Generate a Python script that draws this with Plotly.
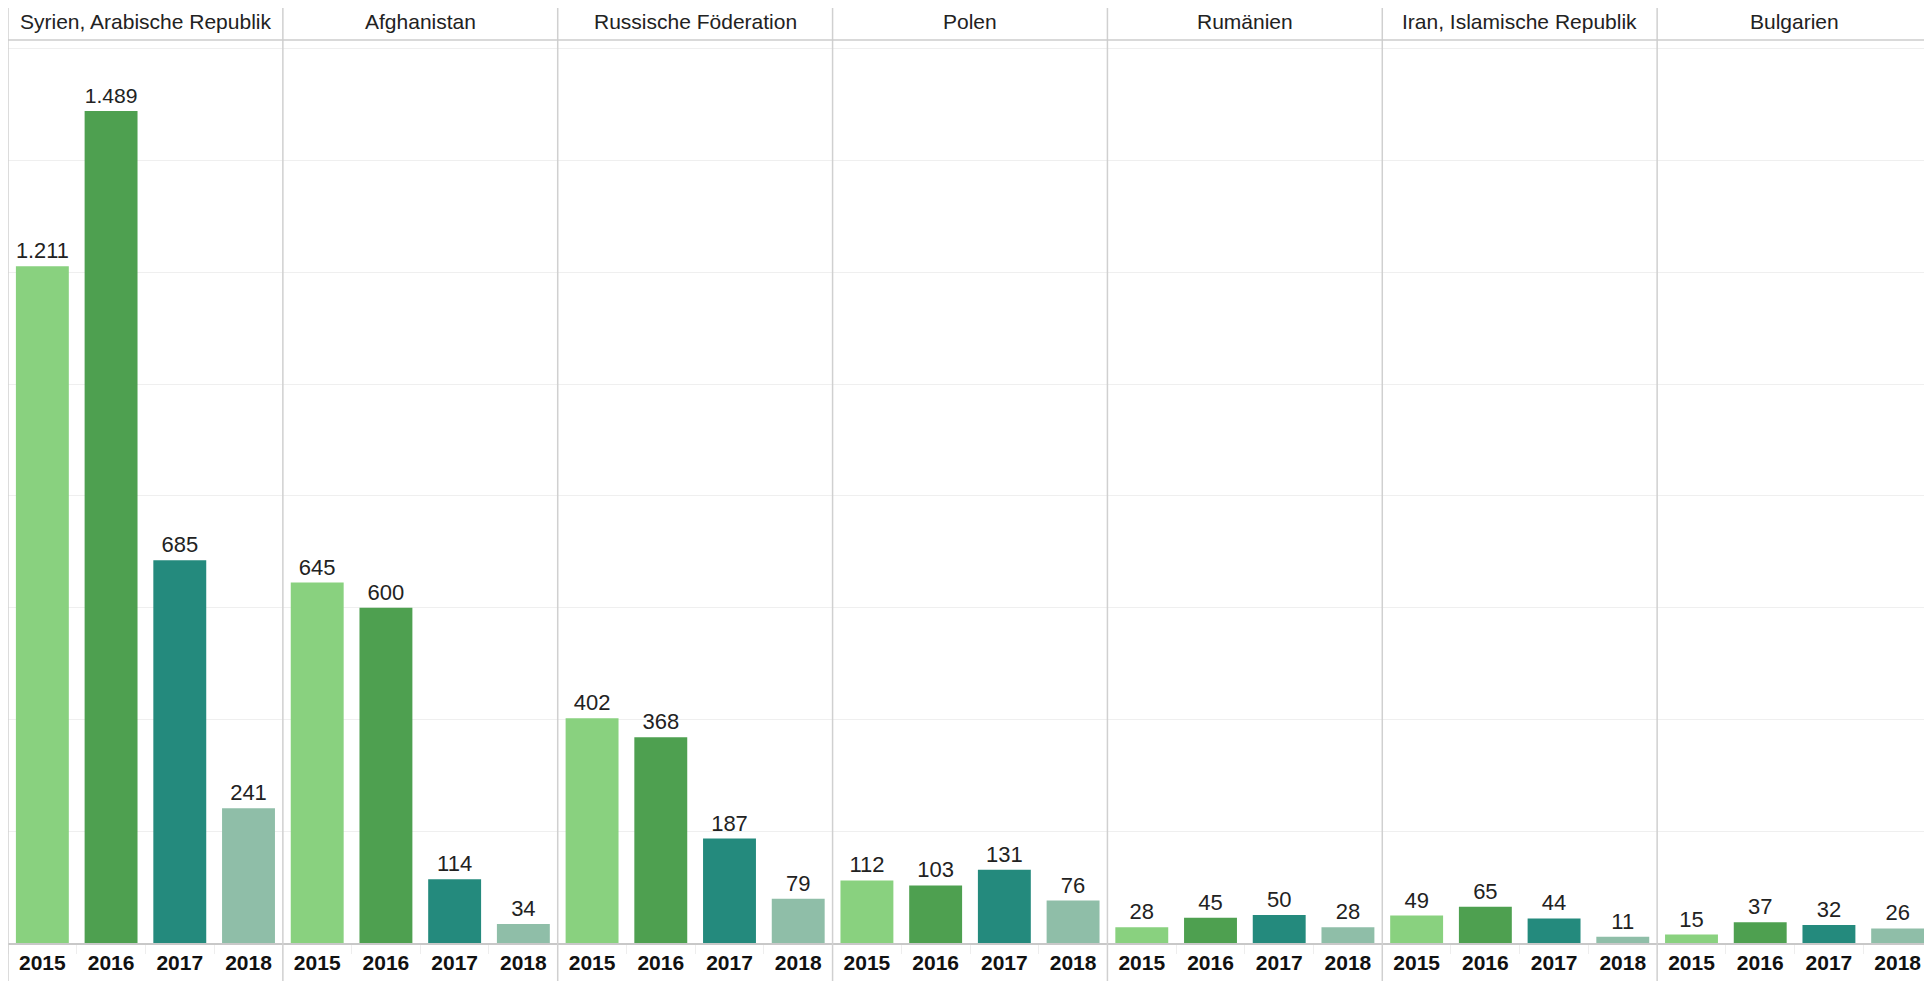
import plotly.graph_objects as go
from plotly.subplots import make_subplots

countries = ["Syrien, Arabische Republik", "Afghanistan", "Russische Föderation", "Polen",
             "Rumänien", "Iran, Islamische Republik", "Bulgarien"]
years = ["2015", "2016", "2017", "2018"]
values = {
    "Syrien, Arabische Republik": [1211, 1489, 685, 241],
    "Afghanistan": [645, 600, 114, 34],
    "Russische Föderation": [402, 368, 187, 79],
    "Polen": [112, 103, 131, 76],
    "Rumänien": [28, 45, 50, 28],
    "Iran, Islamische Republik": [49, 65, 44, 11],
    "Bulgarien": [15, 37, 32, 26],
}
year_colors = ["#89D17F", "#4EA050", "#248A7D", "#8FBEA8"]

FONT = "Liberation Sans Narrow, Arial Narrow, Liberation Sans, Arial, sans-serif"
# page body has an 8px margin, so the figure is sized to fit the window
W, H = 1924, 973
ML, MR, MT, MB = 0, 0, 32, 38
n = len(countries)

fig = make_subplots(rows=1, cols=n, shared_yaxes=True, horizontal_spacing=0)

for i, c in enumerate(countries):
    fig.add_trace(go.Bar(
        x=years, y=values[c],
        marker=dict(color=year_colors, line=dict(width=0)),
        text=values[c], texttemplate="%{y:,}", textposition="outside",
        textfont=dict(family=FONT, size=22, color="#222222"),
        cliponaxis=False, showlegend=False,
    ), row=1, col=i + 1)

plot_h = H - MT - MB
for i in range(n):
    ax = "xaxis" if i == 0 else f"xaxis{i+1}"
    fig.layout[ax].update(
        domain=[i / n, (i + 1) / n],
        showline=True, linecolor="#c8c8c8", linewidth=1.5,
        showgrid=False, ticks="outside", tickson="boundaries",
        ticklen=9, tickcolor="#eeeeee", tickwidth=1,
        tickfont=dict(family=FONT, size=21, color="#111111", weight="bold"),
        fixedrange=True,
    )
    ya = "yaxis" if i == 0 else f"yaxis{i+1}"
    fig.layout[ya].update(
        range=[0, 1616], dtick=200, showgrid=True, gridcolor="#efefef", gridwidth=1,
        showticklabels=False, zeroline=False, showline=False, ticks="",
    )
    # header text
    fig.add_annotation(
        x=(i + 0.5) / n, y=1, xref="paper", yref="paper",
        text=countries[i], showarrow=False, xanchor="center", yanchor="middle", yshift=19,
        font=dict(family=FONT, size=21, color="#222222"),
    )

# vertical separators
y_top = 1 + MT / plot_h
y_bot = -MB / plot_h
for i in range(n):
    fig.add_shape(type="line", xref="paper", yref="paper",
                  x0=i / n, x1=i / n, y0=y_bot, y1=y_top,
                  line=dict(color="#d0d0d0", width=1.5))
# header bottom line
fig.add_shape(type="line", xref="paper", yref="paper", x0=0, x1=1, y0=1, y1=1,
              line=dict(color="#cccccc", width=1.5))

fig.update_layout(
    width=W, height=H,
    margin=dict(l=ML, r=MR, t=MT, b=MB),
    paper_bgcolor="white", plot_bgcolor="white",
    bargap=0.23, separators=",.",
    font=dict(family=FONT),
)

fig.write_html("out.html")
